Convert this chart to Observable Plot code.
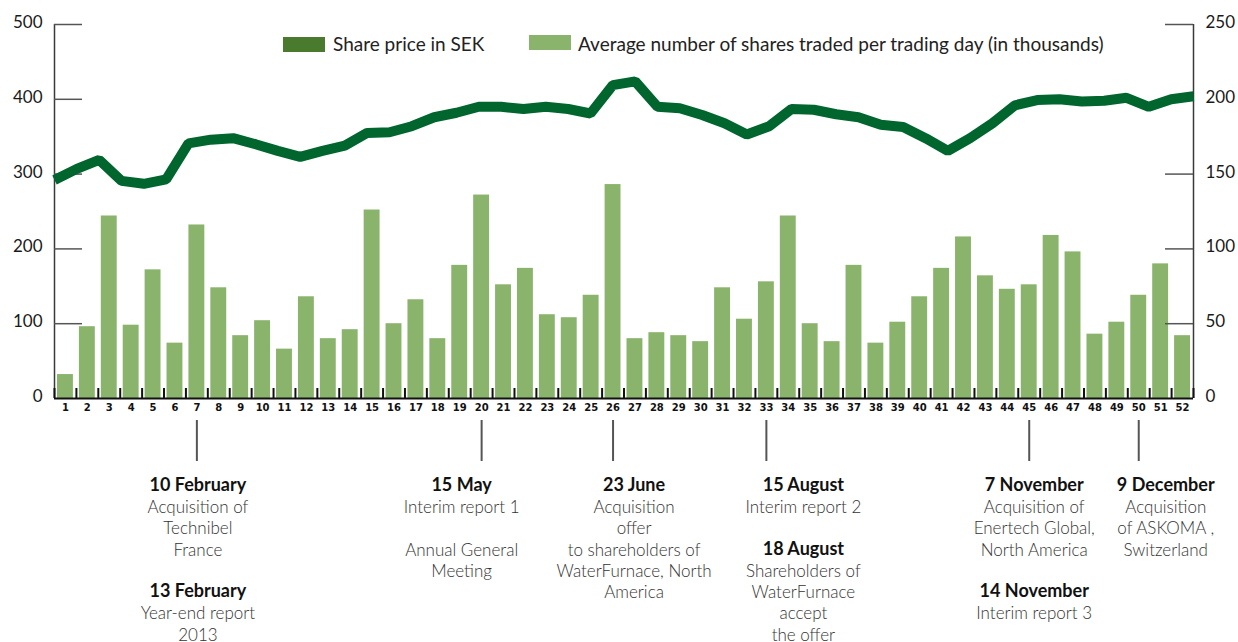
<!DOCTYPE html>
<html>
<head>
<meta charset="utf-8">
<script src="https://cdn.jsdelivr.net/npm/d3@7"></script>
<script src="https://cdn.jsdelivr.net/npm/@observablehq/plot@0.6"></script>
<style>
  html, body { margin: 0; padding: 0; background: #fff; }
  #wrap { position: relative; width: 1238px; height: 642px; font-family: Lato, "Open Sans", sans-serif; }
  .sw { position: absolute; width: 42px; height: 15px; }
  .lt { position: absolute; font-size: 19px; color: #222; line-height: 1; white-space: nowrap; }
</style>
</head>
<body>
<div id="wrap"></div>
<script>
// ---- data ----
const weeks = [1,2,3,4,5,6,7,8,9,10,11,12,13,14,15,16,17,18,19,20,21,22,23,24,25,26,
               27,28,29,30,31,32,33,34,35,36,37,38,39,40,41,42,43,44,45,46,47,48,49,50,51,52];
// Share price in SEK (left axis)
const sharePrice = [292,307,319,291,287,293,341,346,348,340,331,323,331,338,355,356,364,376,382,390,390,387,
                    390,387,381,419,424,390,388,379,368,353,364,387,386,380,376,366,363,348,331,348,
                    368,392,399,400,397,398,402,390,400,404];
// Average number of shares traded per trading day, thousands (right axis)
const sharesTraded = [16,48,122,49,86,37,116,74,42,52,33,68,40,46,126,50,66,40,89,136,76,87,56,54,69,143,
                      40,44,42,38,74,53,78,122,50,38,89,37,51,68,87,108,82,73,76,109,98,43,51,69,90,42];
const leftTicks = [0,100,200,300,400,500];
const eventWeeks = [7,20,26,33,45,50];
const eventTitles = [
  "10 February\n\u00a0\n\u00a0\n\u00a0\n\u00a0\n13 February",
  "15 May",
  "23 June",
  "15 August\n\u00a0\n\u00a0\n18 August",
  "7 November\n\u00a0\n\u00a0\n\u00a0\n\u00a0\n14 November",
  "9 December"
];
const eventTexts = [
  "\u00a0\nAcquisition of\nTechnibel\nFrance\n\u00a0\n\u00a0\nYear-end report\n2013",
  "\u00a0\nInterim report 1\n\u00a0\nAnnual General\nMeeting",
  "\u00a0\nAcquisition\noffer\nto shareholders of\nWaterFurnace, North\nAmerica",
  "\u00a0\nInterim report 2\n\u00a0\n\u00a0\nShareholders of\nWaterFurnace\naccept\nthe offer",
  "\u00a0\nAcquisition of\nEnertech Global,\nNorth America\n\u00a0\n\u00a0\nInterim report 3",
  "\u00a0\nAcquisition\nof ASKOMA ,\nSwitzerland"
];
const legendLabels = ["Share price in SEK", "Average number of shares traded per trading day (in thousands)"];

// ---- tables built from the arrays ----
const xDomain = [0.5, 52.5];
const n = weeks.length;
const bars = weeks.map((w, i) => ({week: w, traded: sharesTraded[i]}));
const prices = weeks.map((w, i) => ({pos: xDomain[0] + (w - 1) * (xDomain[1] - xDomain[0]) / (n - 1), price: sharePrice[i]}));
const boundaries = [xDomain[0], ...weeks.map(w => w + 0.5)];
const events = eventWeeks.map((w, i) => ({week: w, title: eventTitles[i], text: eventTexts[i]}));
// horizontal nudges for annotation text blocks (layout only)
const eventShift = {7: 1, 20: -20, 26: 21, 33: 37, 45: 5, 50: 27};

const colors = {line: "#00662e", bar: "#8ab46c", legendLine: "#4a7a2e"};

const W = 1238, H = 642;
const mL = 54, mR = 45, mT = 24, mB = 244;
const frameW = W - mL - mR, frameH = H - mT - mB;

const rowH = 21.3;
const bodyFont = {fontFamily: "Lato, 'Open Sans', sans-serif", fontSize: 17, lineHeight: rowH / 17, lineAnchor: "top", frameAnchor: "bottom", dy: 78};
const titleFont = {fontFamily: "Lato, 'Open Sans', sans-serif", fontSize: 18, lineHeight: rowH / 18, lineAnchor: "top", frameAnchor: "bottom", dy: 77.3};

const chart = Plot.plot({
  width: W, height: H,
  marginLeft: mL, marginRight: mR, marginTop: mT, marginBottom: mB,
  style: {background: "white", fontFamily: "Lato, 'Open Sans', sans-serif", overflow: "visible"},
  x: {type: "linear", domain: xDomain, label: null},
  y: {domain: [0, 500], label: null},
  marks: [
    Plot.rectY(bars, {x1: d => d.week - 0.5, x2: d => d.week + 0.5, y: d => d.traded * 2, insetLeft: 3, insetRight: 3, fill: colors.bar}),
    // axis lines
    Plot.ruleX([xDomain[0], xDomain[1]], {stroke: "#3a3a3a", strokeWidth: 1.5}),
    Plot.ruleY([0], {stroke: "#111", strokeWidth: 2}),
    // inward tick marks
    Plot.ruleY(leftTicks.filter(d => d > 0), {stroke: "#555", strokeWidth: 1.5, insetRight: frameW - 28}),
    Plot.ruleY(leftTicks.filter(d => d > 0), {stroke: "#555", strokeWidth: 1.5, insetLeft: frameW - 28}),
    Plot.ruleX(boundaries, {stroke: "#111", strokeWidth: 2, insetTop: frameH - 10}),
    // tick labels
    Plot.axisY(leftTicks, {anchor: "left", tickSize: 0, tickPadding: 12, fontSize: 17, dy: -2, label: null, fill: "#1a1a1a"}),
    Plot.axisY(leftTicks, {anchor: "right", tickSize: 0, tickPadding: 12, fontSize: 17, dy: -2, label: null, fill: "#1a1a1a", tickFormat: d => String(d / 2)}),
    Plot.axisX(weeks, {anchor: "bottom", tickSize: 0, tickPadding: 5, fontSize: 10, fontWeight: "bold", fontFamily: "'DejaVu Sans', sans-serif", label: null, fill: "#111", tickFormat: d => String(d)}),
    // share price line
    Plot.line(prices, {x: "pos", y: "price", stroke: colors.line, strokeWidth: 10, strokeLinejoin: "miter", strokeLinecap: "butt"}),
    // event markers
    Plot.ruleX(eventWeeks, {stroke: "#555", strokeWidth: 2, insetTop: 420 - mT, insetBottom: -(461 - (H - mB))}),
    ...events.map(e => Plot.text([e], {x: "week", text: "text", dx: eventShift[e.week], fill: "#333", fontWeight: 300, ...bodyFont})),
    ...events.map(e => Plot.text([e], {x: "week", text: "title", dx: eventShift[e.week], fill: "#111", fontWeight: "bold", ...titleFont}))
  ]
});

const wrap = document.getElementById("wrap");
wrap.appendChild(chart);

// legend (HTML overlay)
const legendItems = [
  {label: legendLabels[0], color: colors.legendLine, sx: 283, sy: 37, tx: 333},
  {label: legendLabels[1], color: colors.bar, sx: 529, sy: 35, tx: 578}
];
for (const it of legendItems) {
  const sw = document.createElement("div");
  sw.className = "sw";
  sw.style.left = it.sx + "px"; sw.style.top = it.sy + "px"; sw.style.background = it.color;
  wrap.appendChild(sw);
  const t = document.createElement("div");
  t.className = "lt";
  t.style.left = it.tx + "px"; t.style.top = "34px";
  t.textContent = it.label;
  wrap.appendChild(t);
}
</script>
</body>
</html>
